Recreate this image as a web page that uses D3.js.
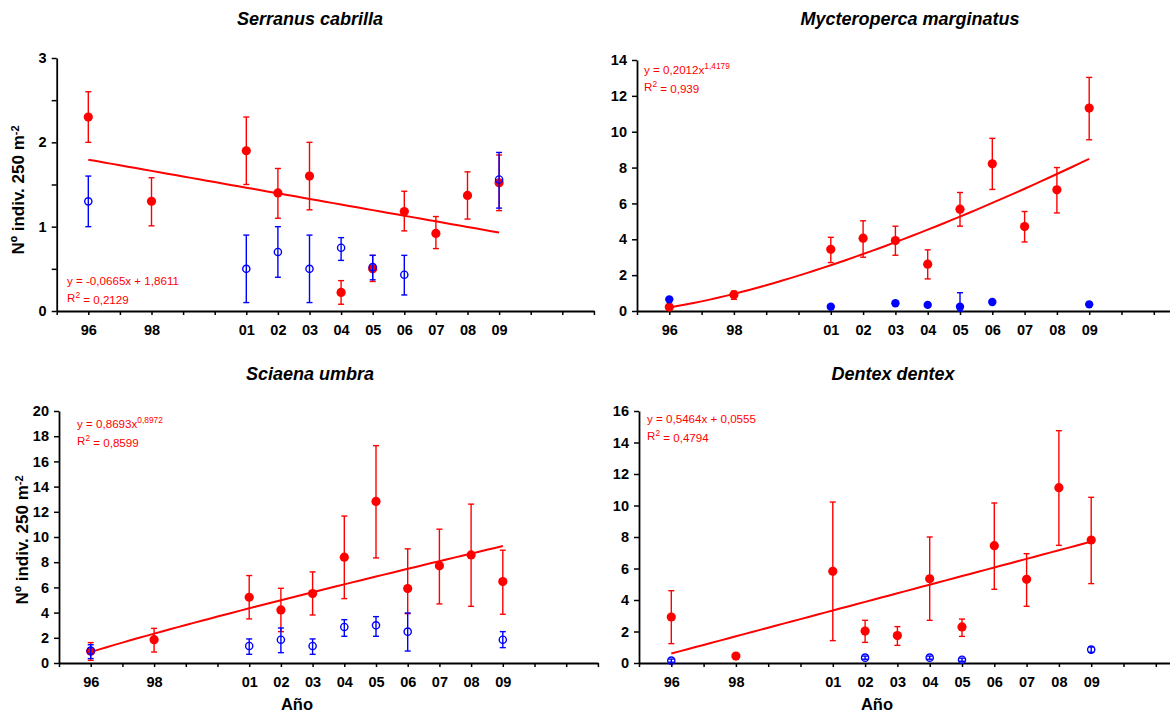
<!DOCTYPE html>
<html>
<head>
<meta charset="utf-8">
<script src="https://cdn.jsdelivr.net/npm/d3@7"></script>
<style>
  html, body { margin: 0; padding: 0; background: #fff; }
  svg { display: block; font-family: "Liberation Sans", Arial, sans-serif; }
</style>
</head>
<body>
<svg id="chart" width="1170" height="713"></svg>
<script>
// Survey years and their axis labels
const years = [1996, 1998, 2001, 2002, 2003, 2004, 2005, 2006, 2007, 2008, 2009];
const yearLabels = ["96", "98", "01", "02", "03", "04", "05", "06", "07", "08", "09"];

// Serranus cabrilla
const serranusRed   = [2.30, 1.30, 1.90, 1.40, 1.60, 0.22, 0.50, 1.18, 0.92, 1.37, 1.52];
const serranusRedLo = [2.00, 1.01, 1.50, 1.10, 1.20, 0.08, 0.35, 0.95, 0.74, 1.09, 1.19];
const serranusRedHi = [2.60, 1.58, 2.30, 1.69, 2.00, 0.36, 0.66, 1.42, 1.12, 1.65, 1.85];
const serranusBlue   = [1.30, null, 0.50, 0.70, 0.50, 0.75, 0.52, 0.43, null, null, 1.56];
const serranusBlueLo = [1.00, null, 0.10, 0.40, 0.10, 0.60, 0.37, 0.19, null, null, 1.22];
const serranusBlueHi = [1.60, null, 0.90, 1.00, 0.90, 0.87, 0.66, 0.66, null, null, 1.88];
const serranusFit = { type: "linear", a: -0.0665, b: 1.8611, eq: "y = -0,0665x + 1,8611", r2: "0,2129" };

// Mycteroperca marginatus
const mycteroRed   = [0.22, 0.91, 3.44, 4.06, 3.93, 2.61, 5.68, 8.21, 4.71, 6.76, 11.32];
const mycteroRedLo = [0.22, 0.65, 2.70, 3.00, 3.11, 1.79, 4.73, 6.78, 3.85, 5.47, 9.55];
const mycteroRedHi = [0.22, 1.10, 4.11, 5.03, 4.73, 3.41, 6.61, 9.63, 5.55, 8.00, 13.03];
const mycteroBlue   = [0.65, null, 0.24, null, 0.43, 0.34, 0.24, 0.50, null, null, 0.37];
const mycteroBlueLo = [0.65, null, 0.24, null, 0.36, 0.34, 0.00, 0.50, null, null, 0.37];
const mycteroBlueHi = [0.65, null, 0.24, null, 0.50, 0.34, 1.02, 0.50, null, null, 0.37];
const mycteroFit = { type: "power", a: 0.2012, b: 1.4179, eq: "y = 0,2012x", exp: "1,4179", r2: "0,939" };

// Sciaena umbra
const sciaenaRed   = [0.93, 1.85, 5.22, 4.21, 5.51, 8.40, 12.82, 5.91, 7.71, 8.58, 6.46];
const sciaenaRedLo = [0.21, 0.87, 3.50, 2.49, 3.81, 5.11, 8.34, 3.92, 4.69, 4.50, 3.87];
const sciaenaRedHi = [1.62, 2.75, 6.94, 5.93, 7.23, 11.66, 17.25, 9.06, 10.62, 12.61, 8.95];
const sciaenaBlue   = [0.98, null, 1.35, 1.85, 1.35, 2.86, 2.99, 2.49, null, null, 1.85];
const sciaenaBlueLo = [0.35, null, 0.69, 0.82, 0.69, 2.12, 2.12, 0.95, null, null, 1.22];
const sciaenaBlueHi = [1.45, null, 1.91, 2.78, 1.91, 3.44, 3.68, 3.97, null, null, 2.49];
const sciaenaFit = { type: "power", a: 0.8693, b: 0.8972, eq: "y = 0,8693x", exp: "0,8972", r2: "0,8599" };

// Dentex dentex
const dentexRed   = [2.92, 0.44, 5.82, 2.03, 1.74, 5.35, 2.29, 7.45, 5.31, 11.13, 7.81];
const dentexRedLo = [1.23, 0.44, 1.42, 1.31, 1.12, 2.71, 1.69, 4.68, 3.60, 7.47, 5.04];
const dentexRedHi = [4.59, 0.44, 10.22, 2.71, 2.31, 8.00, 2.79, 10.16, 6.94, 14.75, 10.52];
const dentexBlue   = [0.15, null, null, 0.34, null, 0.34, 0.21, null, null, null, 0.85];
const dentexBlueLo = [0.05, null, null, 0.24, null, 0.24, 0.11, null, null, null, 0.68];
const dentexBlueHi = [0.25, null, null, 0.44, null, 0.44, 0.31, null, null, null, 1.02];
const dentexFit = { type: "linear", a: 0.5464, b: 0.0555, eq: "y = 0,5464x + 0,0555", r2: "0,4794" };

const RED = "#ff0000", BLUE = "#0000ff";
const svg = d3.select("#chart");

function rows(vals, lo, hi) {
  return years.map((yr, i) => ({ yr, v: vals[i], lo: lo[i], hi: hi[i] }))
              .filter(d => d.v !== null);
}

function drawPanel(p) {
  // year axis runs 1995–2012 with a tick every year
  const x = d3.scaleLinear().domain([1995, 2012]).range([p.x0, p.x0 + 17 * p.step]);
  const y = d3.scaleLinear().domain([0, p.yMax]).range([p.yBase, p.yTop]);
  const g = svg.append("g");

  // title
  g.append("text").attr("x", p.titleX).attr("y", p.titleY)
    .attr("text-anchor", "middle").attr("font-size", 18)
    .attr("font-weight", "bold").attr("font-style", "italic")
    .text(p.title);

  // y axis
  const yAxis = d3.axisLeft(y)
    .tickValues(d3.range(0, p.yMax + 1e-9, p.yStep))
    .tickSize(5).tickSizeOuter(0).tickPadding(5)
    .tickFormat(d => (Math.abs(d / p.yLabelStep - Math.round(d / p.yLabelStep)) < 1e-9) ? d3.format("d")(d) : "");
  const ya = g.append("g").attr("transform", `translate(${p.x0},0)`).call(yAxis);

  // x axis
  const xAxis = d3.axisBottom(x)
    .tickValues(d3.range(1995, 2013))
    .tickSize(4).tickSizeOuter(0).tickPadding(10)
    .tickFormat(d => { const i = years.indexOf(d); return i >= 0 ? yearLabels[i] : ""; });
  const xa = g.append("g").attr("transform", `translate(0,${p.yBase})`).call(xAxis);

  [ya, xa].forEach(a => {
    a.select(".domain").attr("stroke", "#000").attr("stroke-width", 1.8);
    a.selectAll(".tick line").attr("stroke", "#000").attr("stroke-width", 1.5);
    a.selectAll(".tick text").attr("fill", "#000").attr("font-size", 14.5)
      .attr("font-weight", "bold").attr("font-family", "'Liberation Sans', Arial, sans-serif");
  });

  // y label
  if (p.yLabel) {
    const t = g.append("text")
      .attr("transform", `translate(${p.yLabelX},${p.yLabelY}) rotate(-90)`)
      .attr("text-anchor", "middle").attr("dy", "0.35em")
      .attr("font-size", 17).attr("font-weight", "bold");
    t.append("tspan").text("Nº indiv. 250 m");
    t.append("tspan").attr("dy", "-0.45em").attr("font-size", 11).text("-2");
  }
  if (p.xLabel) {
    g.append("text").attr("x", p.xLabelX).attr("y", 710)
      .attr("text-anchor", "middle").attr("font-size", 16.5).attr("font-weight", "bold")
      .text("Año");
  }

  // trend line from the stated equation (x = year - 1995)
  const f = p.fit;
  const fx = t => f.type === "linear" ? f.a * t + f.b : f.a * Math.pow(t, f.b);
  const ts = d3.range(1, 14.001, 0.25);
  g.append("path")
    .attr("d", d3.line().x(t => x(1995 + t)).y(t => y(fx(t)))(ts))
    .attr("fill", "none").attr("stroke", RED).attr("stroke-width", 2);

  // error bars + markers
  function series(data, color, filled, r) {
    const eb = g.append("g").attr("stroke", color).attr("stroke-width", 1.4).attr("fill", "none");
    data.filter(d => d.hi - d.lo > 0.001).forEach(d => {
      const cx = x(d.yr);
      eb.append("line").attr("x1", cx).attr("x2", cx).attr("y1", y(d.lo)).attr("y2", y(d.hi));
      eb.append("line").attr("x1", cx - 3).attr("x2", cx + 3).attr("y1", y(d.lo)).attr("y2", y(d.lo));
      eb.append("line").attr("x1", cx - 3).attr("x2", cx + 3).attr("y1", y(d.hi)).attr("y2", y(d.hi));
    });
    g.append("g").selectAll("circle").data(data).join("circle")
      .attr("cx", d => x(d.yr)).attr("cy", d => y(d.v)).attr("r", r)
      .attr("fill", filled ? color : "none")
      .attr("stroke", color).attr("stroke-width", filled ? 0 : 1.4);
  }
  series(p.red, RED, true, 4.6);
  series(p.blue, BLUE, p.blueFilled, p.blueFilled ? 4.2 : 3.6);

  // equation text
  const eq = g.append("text").attr("x", p.eqX).attr("y", p.eqY)
    .attr("fill", RED).attr("font-size", p.eqSize);
  eq.append("tspan").text(f.eq);
  if (f.exp) eq.append("tspan").attr("dy", "-0.5em").attr("font-size", p.eqSize * 0.72).text(f.exp);
  const r2 = g.append("text").attr("x", p.eqX).attr("y", p.eqY + 17.5)
    .attr("fill", RED).attr("font-size", p.eqSize);
  r2.append("tspan").text("R");
  r2.append("tspan").attr("dy", "-0.5em").attr("font-size", p.eqSize * 0.72).text("2");
  r2.append("tspan").attr("dy", "0.5em").text(" = " + f.r2);
}

drawPanel({
  title: "Serranus cabrilla", titleX: 310, titleY: 25,
  x0: 56.7, step: 31.6, yBase: 311, yTop: 58, yMax: 3, yStep: 0.5, yLabelStep: 1,
  red: rows(serranusRed, serranusRedLo, serranusRedHi),
  blue: rows(serranusBlue, serranusBlueLo, serranusBlueHi), blueFilled: false,
  fit: serranusFit, eqX: 67, eqY: 284.5, eqSize: 11.6,
  yLabel: true, yLabelX: 18, yLabelY: 190
});
drawPanel({
  title: "Mycteroperca marginatus", titleX: 910, titleY: 25,
  x0: 637, step: 32.3, yBase: 311, yTop: 60, yMax: 14, yStep: 2, yLabelStep: 2,
  red: rows(mycteroRed, mycteroRedLo, mycteroRedHi),
  blue: rows(mycteroBlue, mycteroBlueLo, mycteroBlueHi), blueFilled: true,
  fit: mycteroFit, eqX: 644, eqY: 73.5, eqSize: 11.6
});
drawPanel({
  title: "Sciaena umbra", titleX: 310, titleY: 380,
  x0: 59, step: 31.7, yBase: 663, yTop: 411, yMax: 20, yStep: 2, yLabelStep: 2,
  red: rows(sciaenaRed, sciaenaRedLo, sciaenaRedHi),
  blue: rows(sciaenaBlue, sciaenaBlueLo, sciaenaBlueHi), blueFilled: false,
  fit: sciaenaFit, eqX: 77, eqY: 427.5, eqSize: 11.6,
  yLabel: true, yLabelX: 22, yLabelY: 540, xLabel: true, xLabelX: 297
});
drawPanel({
  title: "Dentex dentex", titleX: 893, titleY: 380,
  x0: 639, step: 32.3, yBase: 663, yTop: 411, yMax: 16, yStep: 2, yLabelStep: 2,
  red: rows(dentexRed, dentexRedLo, dentexRedHi),
  blue: rows(dentexBlue, dentexBlueLo, dentexBlueHi), blueFilled: false,
  fit: dentexFit, eqX: 647, eqY: 422.5, eqSize: 11.6, xLabel: true, xLabelX: 877
});
</script>
</body>
</html>
